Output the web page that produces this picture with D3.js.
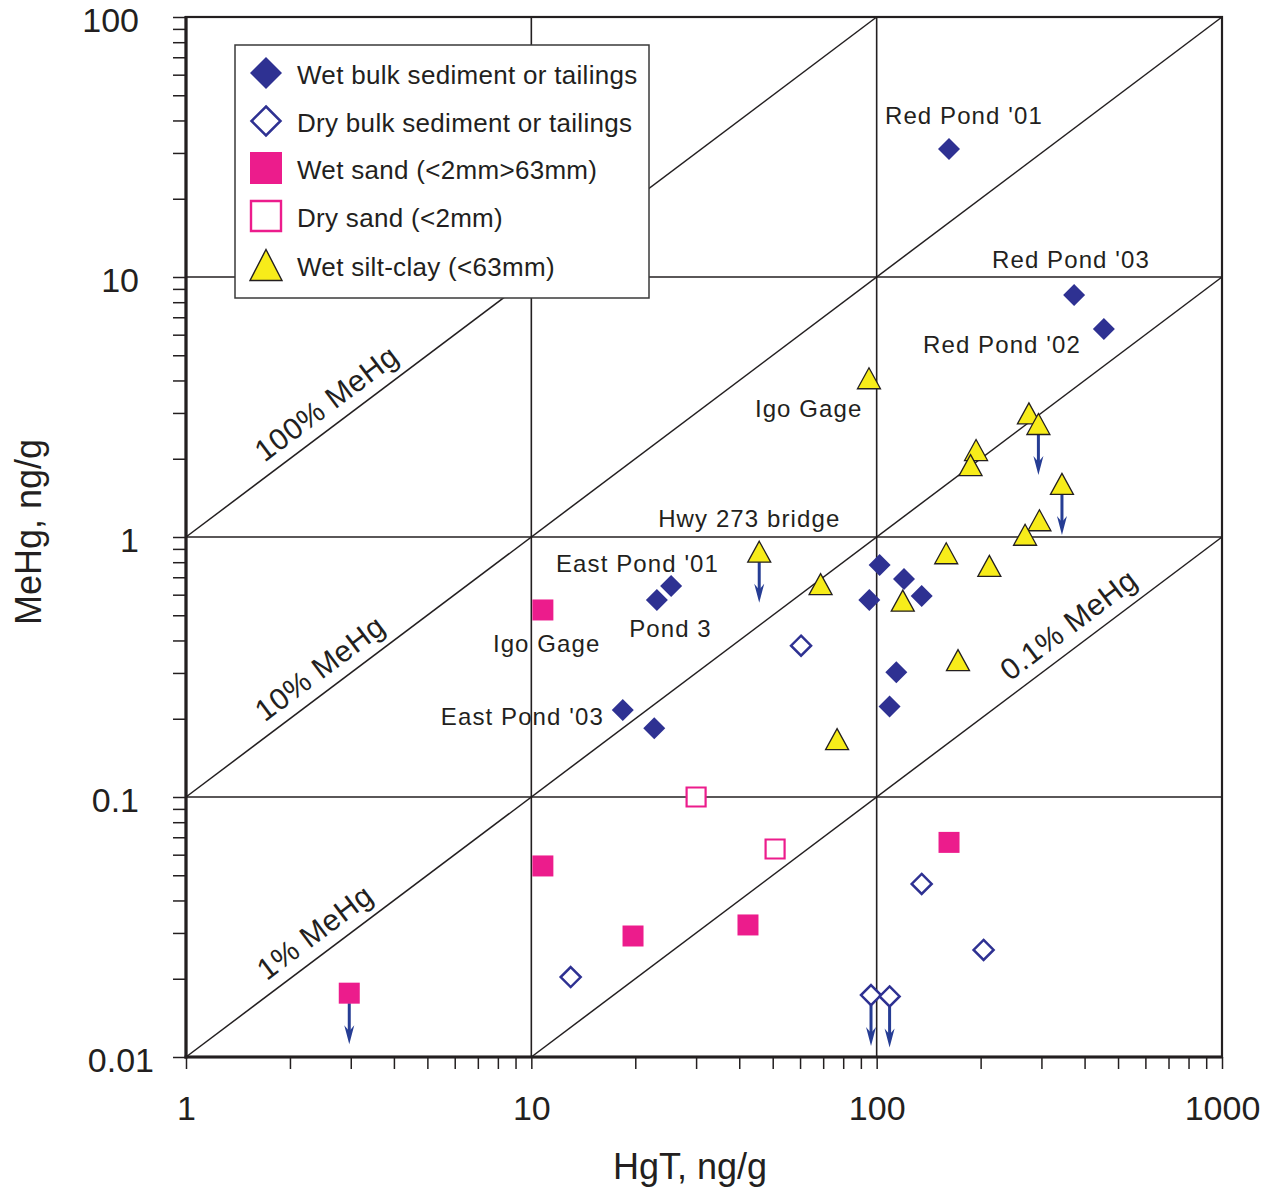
<!DOCTYPE html>
<html><head><meta charset="utf-8">
<script src="https://cdn.jsdelivr.net/npm/d3@7"></script>
<style>
body{margin:0;background:#fff}
svg{display:block}
</style></head><body>
<script>
// HgT vs. MeHg in sediment, tailings and size fractions (log-log)

// Wet bulk sediment or tailings
const wetBulkHgT  = [162, 373, 455, 25.4, 23.1, 18.4, 22.7, 102, 120, 95.2, 135, 114, 109];
const wetBulkMeHg = [31.1, 8.53, 6.31, 0.648, 0.573, 0.216, 0.184, 0.78, 0.69, 0.573, 0.593, 0.302, 0.223];

// Dry bulk sediment or tailings (flag = MeHg below detection)
const dryBulkHgT  = [60.4, 135, 204, 96.3, 109, 13.0];
const dryBulkMeHg = [0.382, 0.0463, 0.0258, 0.0173, 0.0171, 0.0203];
const dryBulkBelow = [false, false, false, true, true, false];

// Wet sand (<2mm>63mm)
const wetSandHgT  = [10.8, 10.8, 19.7, 42.4, 162, 2.97];
const wetSandMeHg = [0.524, 0.0543, 0.0292, 0.0322, 0.0669, 0.0176];
const wetSandBelow = [false, false, false, false, false, true];

// Dry sand (<2mm)
const drySandHgT  = [30.0, 50.8];
const drySandMeHg = [0.100, 0.0631];

// Wet silt-clay (<63mm)
const siltHgT  = [95, 276, 294, 194, 187, 344, 296, 269, 45.7, 68.8, 119, 159, 212, 172, 76.8];
const siltMeHg = [4.08, 2.99, 2.72, 2.16, 1.89, 1.60, 1.16, 1.02, 0.878, 0.659, 0.569, 0.866, 0.774, 0.336, 0.167];
const siltBelow = [false, false, true, false, false, true, false, false, true, false, false, false, false, false, false];

// Axis tick labels (decades only)
const xTickLabels = ["1", "10", "100", "1000"];
const yTickLabels = ["0.01", "0.1", "1", "10", "100"];

// MeHg/HgT ratio lines and their labels
const ratios = [1, 0.1, 0.01, 0.001];
const ratioLabels = ["100% MeHg", "10% MeHg", "1% MeHg", "0.1% MeHg"];
const ratioLabelHgT = [2.79, 2.67, 2.58, 393];

// Site annotations (start of text, baseline) in data units
const siteLabels = ["Red Pond '01", "Red Pond '03", "Red Pond '02", "Igo Gage", "Hwy 273 bridge", "East Pond '01", "Pond 3", "Igo Gage", "East Pond '03"];
const siteLabelHgT  = [105.7, 215.8, 136.2, 44.4, 23.3, 11.79, 19.2, 7.74, 5.47];
const siteLabelMeHg = [38.8, 10.83, 5.10, 2.89, 1.093, 0.733, 0.4125, 0.361, 0.189];

const legendLabels = ["Wet bulk sediment or tailings", "Dry bulk sediment or tailings", "Wet sand (<2mm>63mm)", "Dry sand (<2mm)", "Wet silt-clay (<63mm)"];

const NAVY = "#2e3192", MAGENTA = "#ec1c8c", YELLOW = "#f7ec1a", INK = "#231f20", ARROW = "#263d94";
const SANS = "'Liberation Sans', Arial, Helvetica, sans-serif";

const W = 1279, H = 1190;
const X0 = 186, X1 = 1222, Y0 = 17, Y1 = 1057;

const x = d3.scaleLog().domain([1, 1000]).range([X0, X1]);
const y = d3.scaleLog().domain([0.01, 100]).range([Y1, Y0]);

const svg = d3.select("body").append("svg").attr("width", W).attr("height", H)
  .style("font-family", SANS);

const isDecade = v => Math.abs(Math.log10(v) - Math.round(Math.log10(v))) < 1e-9;

// --- grid at decades
const g = svg.append("g");
g.selectAll("line.gx").data([10, 100]).join("line")
  .attr("x1", d => x(d)).attr("x2", d => x(d)).attr("y1", Y0).attr("y2", Y1)
  .attr("stroke", INK).attr("stroke-width", 1.6);
g.selectAll("line.gy").data([10, 1, 0.1]).join("line")
  .attr("x1", X0).attr("x2", X1).attr("y1", d => y(d)).attr("y2", d => y(d))
  .attr("stroke", INK).attr("stroke-width", 1.6);

// --- ratio lines (MeHg = r * HgT)
const [xmin, xmax] = x.domain(), [ymin, ymax] = y.domain();
ratios.forEach((r, i) => {
  const a = Math.max(xmin, ymin / r), b = Math.min(xmax, ymax / r);
  g.append("line")
    .attr("x1", x(a)).attr("y1", y(a * r)).attr("x2", x(b)).attr("y2", y(b * r))
    .attr("stroke", INK).attr("stroke-width", 1.5);
  const h = ratioLabelHgT[i];
  const ang = Math.atan2(y(r * 10) - y(r), x(10) - x(1)) * 180 / Math.PI;
  g.append("text")
    .attr("transform", `translate(${x(h)},${y(h * r)}) rotate(${ang})`)
    .attr("x", 0).attr("y", -12)
    .attr("text-anchor", "middle")
    .attr("font-size", 30).attr("letter-spacing", 0.6)
    .attr("fill", INK)
    .text(ratioLabels[i]);
});

// --- axes
const xAxis = d3.axisBottom(x).tickValues(x.ticks()).tickSize(12).tickSizeOuter(0)
  .tickFormat(v => isDecade(v) ? xTickLabels[Math.round(Math.log10(v))] : "");
const yAxis = d3.axisLeft(y).tickValues(y.ticks()).tickSize(13).tickSizeOuter(0)
  .tickFormat(v => isDecade(v) ? yTickLabels[Math.round(Math.log10(v)) + 2] : "");

const gx = svg.append("g").attr("transform", `translate(0,${Y1})`).call(xAxis);
const gy = svg.append("g").attr("transform", `translate(${X0},0)`).call(yAxis);
[gx, gy].forEach(ax => {
  ax.select(".domain").remove();
  ax.selectAll(".tick line").attr("stroke", INK).attr("stroke-width", 1.5);
  ax.selectAll(".tick text").attr("font-family", SANS).attr("font-size", 34).attr("fill", INK);
});
gx.selectAll(".tick text").attr("y", 63).attr("dy", null);
gy.selectAll(".tick text").attr("x", -47).attr("dy", 14);
// bottom y label sits a little to the right, clear of the "1" on the x axis
gy.selectAll(".tick text").filter(d => Math.abs(d - 0.01) < 1e-12).attr("x", -32);

// --- frame
svg.append("rect").attr("x", X0).attr("y", Y0).attr("width", X1 - X0).attr("height", Y1 - Y0)
  .attr("fill", "none").attr("stroke", INK).attr("stroke-width", 2.2);
svg.append("line").attr("x1", X0).attr("x2", X0).attr("y1", Y0 - 1).attr("y2", Y1 + 1.5)
  .attr("stroke", INK).attr("stroke-width", 3.2);
svg.append("line").attr("x1", X0 - 1.5).attr("x2", X1 + 1).attr("y1", Y1).attr("y2", Y1)
  .attr("stroke", INK).attr("stroke-width", 3.2);

// --- marker shapes
const diamond = s => `M0,${-s}L${s},0L0,${s}L${-s},0Z`;
const square = s => `M${-s},${-s}H${s}V${s}H${-s}Z`;
const triangle = (w, h) => `M0,${-h / 2}L${w / 2},${h / 2}L${-w / 2},${h / 2}Z`;

function plot(hgt, mehg, path, style) {
  const pts = hgt.map((v, i) => ({ hx: x(v), my: y(mehg[i]) }));
  const sel = svg.append("g").selectAll("path").data(pts).join("path")
    .attr("transform", d => `translate(${d.hx},${d.my})`)
    .attr("d", path);
  style(sel);
}

function arrows(hgt, mehg, below) {
  const ga = svg.append("g");
  hgt.forEach((v, i) => {
    if (!below[i]) return;
    const cx = x(v), cy = y(mehg[i]);
    const top = cy + 10, tip = cy + 51;
    ga.append("line").attr("x1", cx).attr("x2", cx).attr("y1", top).attr("y2", tip - 8)
      .attr("stroke", ARROW).attr("stroke-width", 3);
    ga.append("path")
      .attr("d", `M${cx},${tip}L${cx - 5},${tip - 19}L${cx},${tip - 13}L${cx + 5},${tip - 19}Z`)
      .attr("fill", ARROW);
  });
}

// arrows for values below detection
arrows(dryBulkHgT, dryBulkMeHg, dryBulkBelow);
arrows(wetSandHgT, wetSandMeHg, wetSandBelow);
arrows(siltHgT, siltMeHg, siltBelow);

plot(wetBulkHgT, wetBulkMeHg, diamond(11), s => s.attr("fill", NAVY));
plot(dryBulkHgT, dryBulkMeHg, diamond(10), s => s.attr("fill", "#fff").attr("stroke", NAVY).attr("stroke-width", 2.5));
plot(wetSandHgT, wetSandMeHg, square(10.5), s => s.attr("fill", MAGENTA));
plot(drySandHgT, drySandMeHg, square(9.5), s => s.attr("fill", "#fff").attr("stroke", MAGENTA).attr("stroke-width", 2.2));
plot(siltHgT, siltMeHg, triangle(23, 21), s => s.attr("fill", YELLOW).attr("stroke", INK).attr("stroke-width", 1.3).attr("stroke-linejoin", "miter"));

// --- site labels
svg.append("g").selectAll("text").data(siteLabels).join("text")
  .attr("x", (d, i) => x(siteLabelHgT[i]))
  .attr("y", (d, i) => y(siteLabelMeHg[i]))
  .attr("font-size", 24).attr("letter-spacing", 1.1)
  .attr("fill", INK)
  .text(d => d);

// --- legend
const lg = svg.append("g");
lg.append("rect").attr("x", 235).attr("y", 45).attr("width", 414).attr("height", 253)
  .attr("fill", "#fff").attr("stroke", "#3a3a3a").attr("stroke-width", 1.5);
const rowY = [73, 121, 168, 216, 265];
const legendMarks = [
  { d: diamond(16), fill: NAVY, stroke: "none", sw: 0 },
  { d: diamond(14.5), fill: "#fff", stroke: NAVY, sw: 2.5 },
  { d: square(16), fill: MAGENTA, stroke: "none", sw: 0 },
  { d: square(15), fill: "#fff", stroke: MAGENTA, sw: 2.4 },
  { d: triangle(32, 31), fill: YELLOW, stroke: INK, sw: 1.4 }
];
legendLabels.forEach((t, i) => {
  const m = legendMarks[i];
  lg.append("path").attr("transform", `translate(266,${rowY[i]})`).attr("d", m.d)
    .attr("fill", m.fill).attr("stroke", m.stroke).attr("stroke-width", m.sw);
  lg.append("text").attr("x", 297).attr("y", rowY[i] + 11)
    .attr("font-size", 26).attr("letter-spacing", 0.3).attr("fill", INK).text(t);
});

// --- axis titles
svg.append("text").attr("x", 690).attr("y", 1179).attr("text-anchor", "middle")
  .attr("font-size", 36).attr("fill", INK).text("HgT, ng/g");
svg.append("text").attr("transform", "translate(41,532) rotate(-90)").attr("text-anchor", "middle")
  .attr("font-size", 36).attr("fill", INK).text("MeHg, ng/g");
</script>
</body></html>
